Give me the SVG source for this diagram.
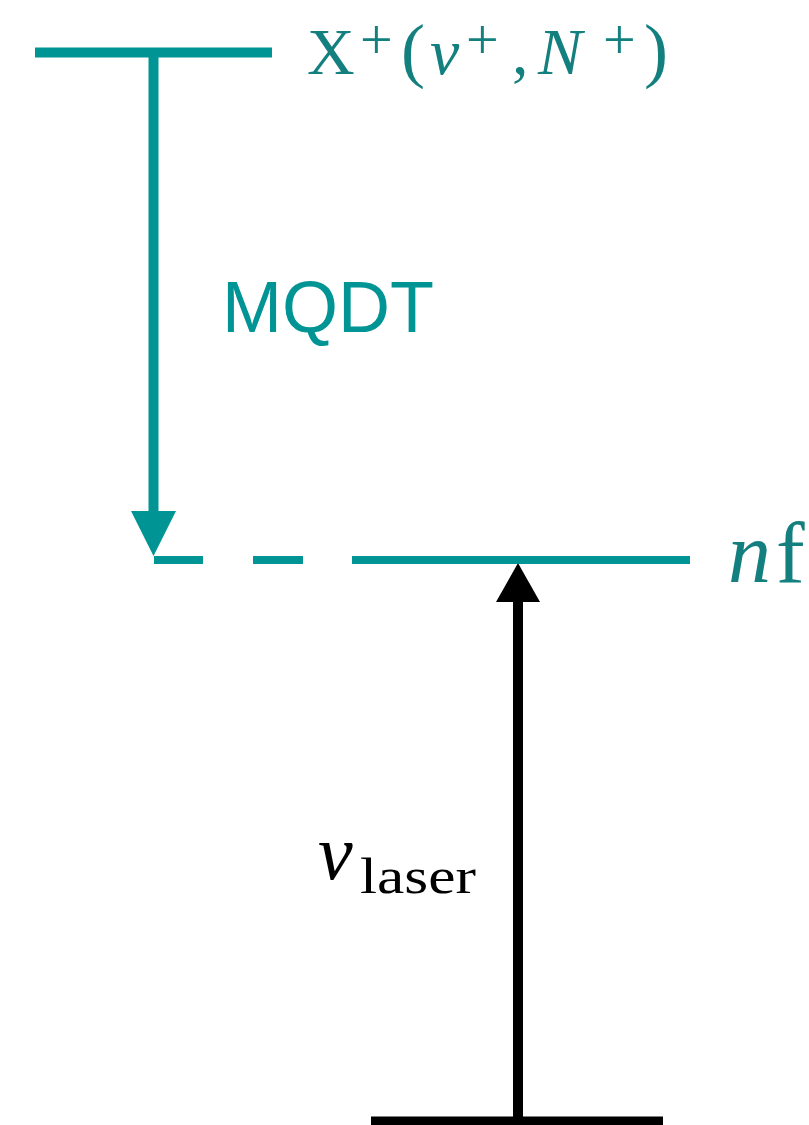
<svg xmlns="http://www.w3.org/2000/svg" width="809" height="1125" viewBox="0 0 809 1125">
<style>
.teal{stroke:#009494;fill:none}
.blk{stroke:#000;fill:none}
.serif{font-family:"Liberation Serif","DejaVu Serif",serif}
.tt{fill:#13807f}
.it{font-style:italic}
.sup{font-size:58px}
</style>
<rect width="809" height="1125" fill="#fff"/>
<g id="connectors">
<line class="teal" x1="153.5" y1="52" x2="153.5" y2="515" stroke-width="10"/>
<polygon points="131,511 176,511 153.5,556" fill="#009494"/>
<line class="blk" x1="518" y1="1117" x2="518" y2="598" stroke-width="10"/>
<polygon points="496,602 540,602 518,563" fill="#000"/>
</g>
<g id="level-ion">
<line class="teal" x1="35" y1="52.5" x2="272" y2="52.5" stroke-width="10"/>
<text class="serif tt" y="74" font-size="66"><tspan x="307">X</tspan><tspan class="sup" x="360" y="59">+</tspan><tspan x="401" y="74" font-size="72">(</tspan><tspan class="it" x="430">v</tspan><tspan class="sup" x="466" y="59">+</tspan><tspan x="512" y="74">,</tspan><tspan class="it" x="538">N</tspan><tspan class="sup" x="603" y="59">+</tspan><tspan x="644" y="74" font-size="72">)</tspan></text>
</g>
<g id="level-nf">
<line class="teal" x1="154" y1="560" x2="203" y2="560" stroke-width="8"/>
<line class="teal" x1="253" y1="560" x2="303" y2="560" stroke-width="8"/>
<line class="teal" x1="352" y1="560" x2="690" y2="560" stroke-width="8"/>
<text class="serif tt" y="582" font-size="86"><tspan class="it" x="728">n</tspan><tspan x="776">f</tspan></text>
</g>
<g id="label-mqdt">
<text x="222" y="332" font-family="'Liberation Sans',Arial,sans-serif" font-size="72" fill="#009494">MQDT</text>
</g>
<g id="label-laser">
<text class="serif" fill="#000" y="879"><tspan class="it" x="318" font-size="78">ν</tspan><tspan x="360" y="893" font-size="50" textLength="116" lengthAdjust="spacingAndGlyphs">laser</tspan></text>
</g>
<g id="level-ground">
<line class="blk" x1="371" y1="1121" x2="663" y2="1121" stroke-width="9"/>
</g>
</svg>
